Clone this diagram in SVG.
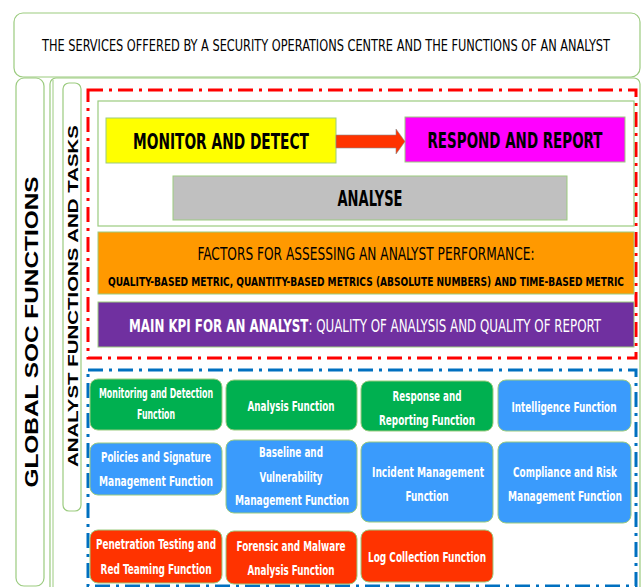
<svg xmlns="http://www.w3.org/2000/svg" width="643" height="587" viewBox="0 0 643 587">
<style>
.frame{fill:#fff;stroke:#9bcb7f;stroke-width:1.2}
.box{stroke:#9bcb7f;stroke-width:1}
.t{font-family:"Liberation Sans Narrow","DejaVu Sans Condensed","Liberation Sans",Arial,sans-serif;font-stretch:condensed;text-anchor:middle;dominant-baseline:central}
.big{font-size:22px;font-weight:bold;fill:#000}
.fn{font-size:14px;font-weight:bold;fill:#fff}
.gr{fill:#00b050}
.bl{fill:#3a9bfc}
.rd{fill:#ff3300}
.wide{font-family:"Liberation Sans",Arial,sans-serif;font-stretch:normal}
</style>
<rect width="643" height="587" fill="#fff"/>
<g id="title">
<rect class="frame" x="14" y="13" width="626" height="64" rx="9"/>
<text class="t" x="326" y="46" font-size="15" textLength="568" lengthAdjust="spacingAndGlyphs">THE SERVICES OFFERED BY A SECURITY OPERATIONS CENTRE AND THE FUNCTIONS OF AN ANALYST</text>
</g>
<g id="global">
<rect class="frame" x="16" y="78" width="28" height="508" rx="8"/>
<text class="t wide" transform="translate(31,332) rotate(-90)" font-size="19" font-weight="bold" textLength="311" lengthAdjust="spacingAndGlyphs">GLOBAL SOC FUNCTIONS</text>
</g>
<g id="container">
<rect class="frame" x="50" y="78" width="590" height="520" rx="6"/>
<line x1="53" y1="80" x2="53" y2="587" stroke="#9bcb7f" stroke-width="1"/>
</g>
<g id="analyst">
<rect class="frame" x="63" y="83" width="18" height="428" rx="6"/>
<text class="t wide" transform="translate(73,296) rotate(-90)" font-size="14" font-weight="bold" textLength="342" lengthAdjust="spacingAndGlyphs">ANALYST FUNCTIONS AND TASKS</text>
</g>
<g id="groups" fill="none" stroke-width="3" stroke-dasharray="15 6 3 6">
<rect x="88" y="90" width="548" height="268" stroke="#ff0000"/>
<rect x="88" y="370" width="548" height="216" stroke="#0070c0"/>
</g>
<g id="workflow">
<rect class="frame" x="98" y="101" width="536" height="125"/>
</g>
<g id="monitor">
<rect class="box" x="106" y="118" width="230" height="45" fill="#ffff00"/>
<text class="t big" x="221" y="141" textLength="176" lengthAdjust="spacingAndGlyphs">MONITOR AND DETECT</text>
</g>
<g id="respond">
<rect class="box" x="405" y="117" width="220" height="45" fill="#ff00ff"/>
<text class="t big" x="515" y="140" textLength="175" lengthAdjust="spacingAndGlyphs">RESPOND AND REPORT</text>
</g>
<g id="analyse">
<rect class="box" x="173" y="176" width="394" height="44" fill="#c0c0c0"/>
<text class="t big" x="370" y="198" textLength="65" lengthAdjust="spacingAndGlyphs">ANALYSE</text>
</g>
<g id="connectors">
<polygon points="336,135 396,135 396,129 405,141.5 396,154 396,148 336,148" fill="#ff3300" stroke="#8c8c8c" stroke-width="0.6"/>
</g>
<g id="factors">
<rect class="box" x="98" y="232" width="536" height="62" fill="#ff9900"/>
<text class="t" x="366" y="253" font-size="18" textLength="337" lengthAdjust="spacingAndGlyphs">FACTORS FOR ASSESSING AN ANALYST PERFORMANCE:</text>
<text class="t" x="366" y="281" font-size="13" font-weight="bold" textLength="516" lengthAdjust="spacingAndGlyphs">QUALITY-BASED METRIC, QUANTITY-BASED METRICS (ABSOLUTE NUMBERS) AND TIME-BASED METRIC</text>
</g>
<g id="kpi">
<rect class="box" x="98" y="302" width="536" height="45" fill="#7030a0"/>
<text class="t" x="365" y="325" font-size="18" fill="#fff" textLength="472" lengthAdjust="spacingAndGlyphs"><tspan font-weight="bold">MAIN KPI FOR AN ANALYST</tspan>: QUALITY OF ANALYSIS AND QUALITY OF REPORT</text>
</g>
<g id="f-monitoring">
<rect class="box gr" x="90" y="379" width="132" height="51" rx="8"/>
<text class="t fn" x="156" y="393" textLength="114" lengthAdjust="spacingAndGlyphs">Monitoring and Detection</text>
<text class="t fn" x="156" y="414" textLength="38" lengthAdjust="spacingAndGlyphs">Function</text>
</g>
<g id="f-analysis">
<rect class="box gr" x="226" y="380" width="131" height="50" rx="8"/>
<text class="t fn" x="291" y="406" textLength="87" lengthAdjust="spacingAndGlyphs">Analysis Function</text>
</g>
<g id="f-response">
<rect class="box gr" x="361" y="381" width="132" height="50" rx="8"/>
<text class="t fn" x="427" y="396" textLength="69" lengthAdjust="spacingAndGlyphs">Response and</text>
<text class="t fn" x="427" y="420" textLength="96" lengthAdjust="spacingAndGlyphs">Reporting Function</text>
</g>
<g id="f-intelligence">
<rect class="box bl" x="498" y="380" width="133" height="51" rx="8"/>
<text class="t fn" x="564" y="407" textLength="105" lengthAdjust="spacingAndGlyphs">Intelligence Function</text>
</g>
<g id="f-policies">
<rect class="box bl" x="90" y="443" width="132" height="52" rx="8"/>
<text class="t fn" x="156" y="457" textLength="110" lengthAdjust="spacingAndGlyphs">Policies and Signature</text>
<text class="t fn" x="156" y="481" textLength="114" lengthAdjust="spacingAndGlyphs">Management Function</text>
</g>
<g id="f-baseline">
<rect class="box bl" x="226" y="440" width="131" height="73" rx="8"/>
<text class="t fn" x="291" y="452" textLength="64" lengthAdjust="spacingAndGlyphs">Baseline and</text>
<text class="t fn" x="291" y="477" textLength="63" lengthAdjust="spacingAndGlyphs">Vulnerability</text>
<text class="t fn" x="292" y="500" textLength="114" lengthAdjust="spacingAndGlyphs">Management Function</text>
</g>
<g id="f-incident">
<rect class="box bl" x="361" y="442" width="132" height="80" rx="8"/>
<text class="t fn" x="428" y="472" textLength="112" lengthAdjust="spacingAndGlyphs">Incident Management</text>
<text class="t fn" x="427" y="496" textLength="43" lengthAdjust="spacingAndGlyphs">Function</text>
</g>
<g id="f-compliance">
<rect class="box bl" x="498" y="442" width="133" height="81" rx="8"/>
<text class="t fn" x="565" y="472" textLength="104" lengthAdjust="spacingAndGlyphs">Compliance and Risk</text>
<text class="t fn" x="565" y="496" textLength="114" lengthAdjust="spacingAndGlyphs">Management Function</text>
</g>
<g id="f-pentest">
<rect class="box rd" x="90" y="530" width="132" height="53" rx="8"/>
<text class="t fn" x="156" y="544" textLength="120" lengthAdjust="spacingAndGlyphs">Penetration Testing and</text>
<text class="t fn" x="156" y="569" textLength="111" lengthAdjust="spacingAndGlyphs">Red Teaming Function</text>
</g>
<g id="f-forensic">
<rect class="box rd" x="226" y="531" width="131" height="53" rx="8"/>
<text class="t fn" x="291" y="546" textLength="109" lengthAdjust="spacingAndGlyphs">Forensic and Malware</text>
<text class="t fn" x="291" y="570" textLength="87" lengthAdjust="spacingAndGlyphs">Analysis Function</text>
</g>
<g id="f-log">
<rect class="box rd" x="361" y="530" width="132" height="52" rx="8"/>
<text class="t fn" x="427" y="557" textLength="118" lengthAdjust="spacingAndGlyphs">Log Collection Function</text>
</g>
</svg>
